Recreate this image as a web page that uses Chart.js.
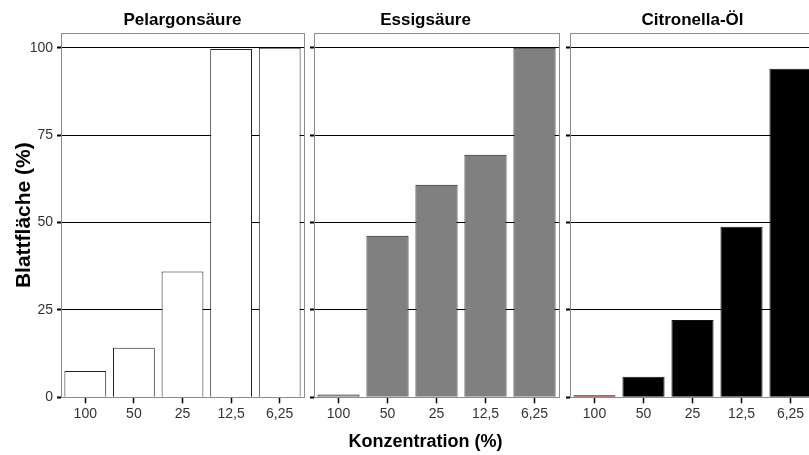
<!DOCTYPE html>
<html>
<head>
<meta charset="utf-8">
<script src="https://cdn.jsdelivr.net/npm/chart.js@4"></script>
<style>
  html, body { margin: 0; padding: 0; background: #fff; overflow: hidden; }
  #wrap { position: relative; width: 809px; height: 455px; overflow: hidden; }
  canvas { position: absolute; top: 0; }
</style>
</head>
<body>
<div id="wrap">
  <canvas id="c1" width="306" height="455" style="left:0px"></canvas>
  <canvas id="c2" width="269" height="455" style="left:292px"></canvas>
  <canvas id="c3" width="269" height="455" style="left:548px"></canvas>
</div>
<script>
// Konzentrationen (x-Achse)
const categories = ["100", "50", "25", "12,5", "6,25"];

// Blattfläche in % je Mittel
const pelargon = [7.5, 14.2, 36, 99.6, 100];
const essig = [0.8, 46.2, 60.8, 69.4, 100];
const citronella = [0.6, 5.9, 22.1, 48.8, 94];

const yTicks = [0, 25, 50, 75, 100];

Chart.defaults.font.family = "'Liberation Sans', Arial, sans-serif";
Chart.defaults.color = "#222";

// grauer Rahmen um die Plotfläche
const frame = {
  id: "frame",
  beforeDatasetsDraw(chart) {
    const { ctx, chartArea: a } = chart;
    ctx.save();
    ctx.strokeStyle = "#8c8c8c";
    ctx.lineWidth = 1;
    ctx.strokeRect(Math.round(a.left) + 0.5, Math.round(a.top) + 0.5,
      Math.round(a.right - a.left), Math.round(a.bottom - a.top));
    ctx.restore();
  }
};

function panel(id, title, values, colors, opts) {
  const ctx = document.getElementById(id).getContext("2d");
  return new Chart(ctx, {
    type: "bar",
    data: {
      labels: categories,
      datasets: [{
        data: values,
        backgroundColor: colors,
        borderColor: opts.border,
        borderWidth: 1,
        barPercentage: 0.86,
        categoryPercentage: 1
      }]
    },
    plugins: [frame],
    options: {
      responsive: false,
      animation: false,
      layout: { padding: { left: 0, right: 2, top: 0, bottom: 0 } },
      plugins: {
        legend: { display: false },
        tooltip: { enabled: false },
        title: {
          display: true,
          text: title,
          fullSize: opts.titleFull,
          color: "#000",
          font: { size: 17, weight: "bold" },
          padding: { top: 10.3, bottom: 2.3 }
        },
        subtitle: {
          display: !!opts.xTitle,
          text: opts.xTitle || "",
          position: "bottom",
          color: "#000",
          font: { size: 18, weight: "bold" },
          padding: { top: 0, bottom: 2 }
        }
      },
      scales: {
        x: {
          offset: true,
          grid: {
            offset: false,
            drawOnChartArea: false,
            drawTicks: true,
            tickLength: 6,
            tickColor: "#000",
            tickWidth: 1.5
          },
          border: { display: false },
          ticks: {
            font: { size: 14 },
            color: "#333",
            padding: 2,
            maxRotation: 0,
            autoSkip: false
          },
          afterFit(s) { s.height = opts.xHeight; }
        },
        y: {
          min: 0,
          max: 104.2,
          afterBuildTicks(s) { s.ticks = yTicks.map(v => ({ value: v })); },
          grid: {
            color: c => (c.tick && c.tick.value === 0 ? "#8c8c8c" : "#000"),
            lineWidth: 1,
            drawTicks: true,
            tickLength: 4,
            tickColor: "#000",
            tickWidth: 2
          },
          border: { display: true, color: "#8c8c8c", width: 1 },
          ticks: {
            display: opts.yLabels,
            font: { size: 14 },
            color: "#333",
            padding: 4
          },
          title: {
            display: opts.yLabels,
            text: "Blattfläche (%)",
            color: "#000",
            font: { size: 21, weight: "bold" },
            padding: { top: 12, bottom: 0 }
          },
          afterFit(s) { s.width = opts.yWidth; }
        }
      }
    }
  });
}

panel("c1", "Pelargonsäure", pelargon, "#ffffff",
  { border: "#222", titleFull: false, yLabels: true, yWidth: 61, xHeight: 57.7 });

panel("c2", "Essigsäure", essig, "#808080",
  { border: "#1a1a1a", titleFull: true, yLabels: false, yWidth: 22, xHeight: 34.1,
    xTitle: "Konzentration (%)" });

panel("c3", "Citronella-Öl", citronella,
  ["#7d1d1d", "#000", "#000", "#000", "#000"],
  { border: "#111", titleFull: false, yLabels: false, yWidth: 22, xHeight: 57.7 });
</script>
</body>
</html>
